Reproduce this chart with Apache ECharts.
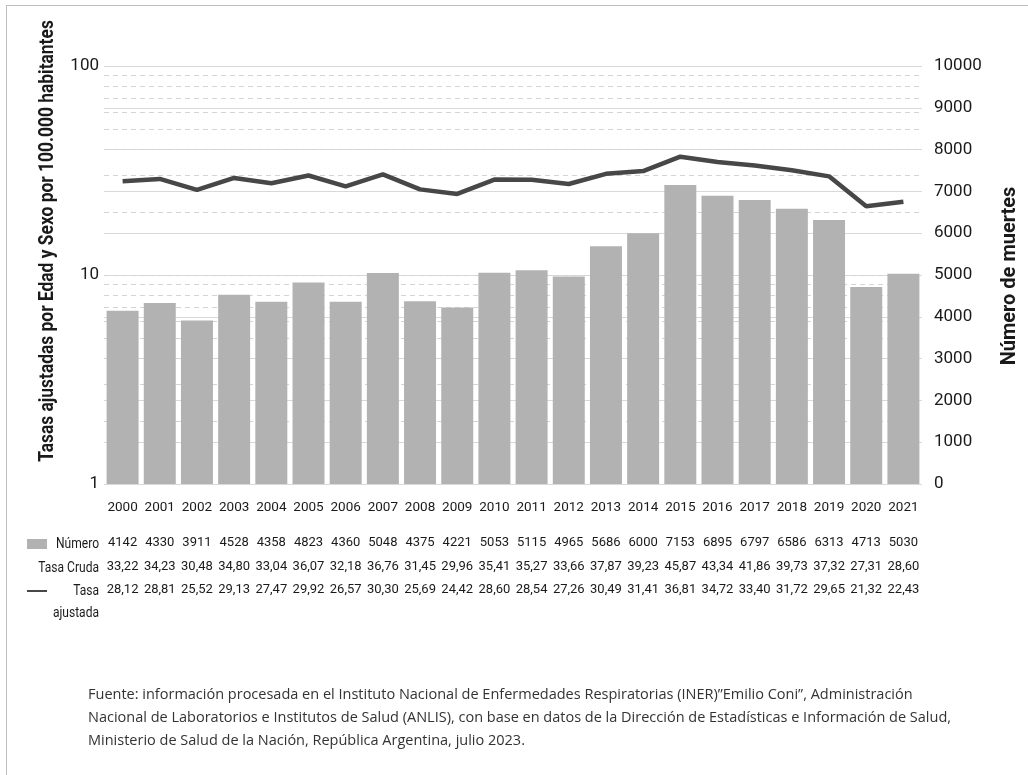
<!DOCTYPE html>
<html>
<head>
<meta charset="utf-8">
<script src="https://cdn.jsdelivr.net/npm/echarts@6/dist/echarts.min.js"></script>
<style>
html,body{margin:0;padding:0;background:#fff;}
#chart{width:1028px;height:775px;}
</style>
</head>
<body>
<div id="chart"></div>
<script>
const years = ['2000','2001','2002','2003','2004','2005','2006','2007','2008','2009','2010','2011','2012','2013','2014','2015','2016','2017','2018','2019','2020','2021'];
const numero = [4142,4330,3911,4528,4358,4823,4360,5048,4375,4221,5053,5115,4965,5686,6000,7153,6895,6797,6586,6313,4713,5030];
const tasaCruda = [33.22,34.23,30.48,34.80,33.04,36.07,32.18,36.76,31.45,29.96,35.41,35.27,33.66,37.87,39.23,45.87,43.34,41.86,39.73,37.32,27.31,28.60];
const tasaAjustada = [28.12,28.81,25.52,29.13,27.47,29.92,26.57,30.30,25.69,24.42,28.60,28.54,27.26,30.49,31.41,36.81,34.72,33.40,31.72,29.65,21.32,22.43];
const logGridValues = [2,3,4,5,6,7,8,9,10,20,30,40,50,60,70,80,90];
const leftAxisName = 'Tasas ajustadas por Edad y Sexo por 100.000 habitantes';
const rightAxisName = 'Número de muertes';
const rowLabels = ['Número','Tasa Cruda','Tasa','ajustada'];
const footnote = 'Fuente: información procesada en el Instituto Nacional de Enfermedades Respiratorias (INER)”Emilio Coni”, Administración\nNacional de Laboratorios e Institutos de Salud (ANLIS), con base en datos de la Dirección de Estadísticas e Información de Salud,\nMinisterio de Salud de la Nación, República Argentina, julio 2023.';

const FF = 'Roboto,"Liberation Sans",sans-serif';
const fmt = v => v.toFixed(2).replace('.', ',');
const TXT = '#1a1a1a';

function rowAxis(data, offset) {
  return {
    type: 'category', gridIndex: 0, position: 'bottom', offset: offset,
    data: data,
    axisLine: {show: false}, axisTick: {show: false}, splitLine: {show: false},
    axisLabel: {show: true, interval: 0, color: TXT, fontFamily: FF, fontSize: 13, margin: 16}
  };
}

function label(text, x, y, align, size, weight, sx) {
  return {type: 'text', x: x, y: y, scaleX: sx, scaleY: 1,
    style: {text: text, fill: TXT, font: (weight || 'normal') + ' ' + size + 'px ' + FF, textAlign: align, textVerticalAlign: 'middle'}};
}

const chart = echarts.init(document.getElementById('chart'), null, {renderer: 'canvas'});
chart.setOption({
  animation: false,
  backgroundColor: '#fff',
  grid: {left: 104, right: 106, top: 66, bottom: 291, containLabel: false},
  xAxis: [
    {
      type: 'category', data: years,
      axisLine: {show: false}, axisTick: {show: false},
      axisLabel: {interval: 0, color: TXT, fontFamily: FF, fontSize: 13.5, margin: 17}
    },
    rowAxis(numero.map(String), 36),
    rowAxis(tasaCruda.map(fmt), 60),
    rowAxis(tasaAjustada.map(fmt), 83)
  ],
  yAxis: [
    {
      type: 'log', logBase: 10, min: 1, max: 100,
      axisLine: {show: false}, axisTick: {show: false},
      splitLine: {show: false},
      axisLabel: {color: TXT, fontFamily: FF, fontSize: 17, margin: 5, formatter: v => String(v)}
    },
    {
      type: 'value', min: 0, max: 10000, interval: 1000, position: 'right',
      axisLine: {show: false}, axisTick: {show: false},
      splitLine: {show: true, lineStyle: {color: '#d9d9d9', width: 1}},
      axisLabel: {color: TXT, fontFamily: FF, fontSize: 17, margin: 12, formatter: v => String(v)}
    }
  ],
  series: [
    {
      type: 'bar', xAxisIndex: 0, yAxisIndex: 1, data: numero,
      barCategoryGap: '14%',
      itemStyle: {color: '#b2b2b2'},
      z: 2
    },
    {
      type: 'line', xAxisIndex: 0, yAxisIndex: 0, data: tasaAjustada,
      symbol: 'none', lineStyle: {color: '#474747', width: 4.5},
      z: 3,
      markLine: {
        silent: true, symbol: 'none', label: {show: false},
        lineStyle: {color: '#d4d4d4', type: [5, 4], width: 1},
        data: logGridValues.map(v => ({yAxis: v})),
        z: 1
      }
    }
  ],
  graphic: [
    {type: 'line', shape: {x1: 6, y1: 5.5, x2: 1028, y2: 5.5}, style: {stroke: '#bdbdbd', lineWidth: 1}, silent: true},
    {type: 'line', shape: {x1: 6.5, y1: 5, x2: 6.5, y2: 775}, style: {stroke: '#bdbdbd', lineWidth: 1}, silent: true},
    {type: 'text', x: 48, y: 241, rotation: Math.PI / 2, scaleX: 0.87, scaleY: 1,
      style: {text: leftAxisName, fill: TXT, font: 'bold 20px ' + FF, textAlign: 'center', textVerticalAlign: 'middle'}},
    {type: 'text', x: 1010, y: 276, rotation: Math.PI / 2, scaleX: 1, scaleY: 1,
      style: {text: rightAxisName, fill: TXT, font: 'bold 20px ' + FF, textAlign: 'center', textVerticalAlign: 'middle'}},
    {type: 'rect', shape: {x: 27, y: 539, width: 20, height: 10}, style: {fill: '#b2b2b2'}},
    {type: 'line', shape: {x1: 27, y1: 591, x2: 47, y2: 591}, style: {stroke: '#474747', lineWidth: 2}},
    label(rowLabels[0], 99, 544, 'right', 14, 'normal', 0.86),
    label(rowLabels[1], 99, 568, 'right', 14, 'normal', 0.86),
    label(rowLabels[2], 99, 591, 'right', 14, 'normal', 0.86),
    label(rowLabels[3], 99, 613, 'right', 14, 'normal', 0.86),
    {type: 'text', x: 88, y: 683, style: {text: footnote, fill: '#333', font: '14.5px "Open Sans","Noto Sans",sans-serif', lineHeight: 23, textAlign: 'left', textVerticalAlign: 'top'}}
  ]
});
</script>
</body>
</html>
